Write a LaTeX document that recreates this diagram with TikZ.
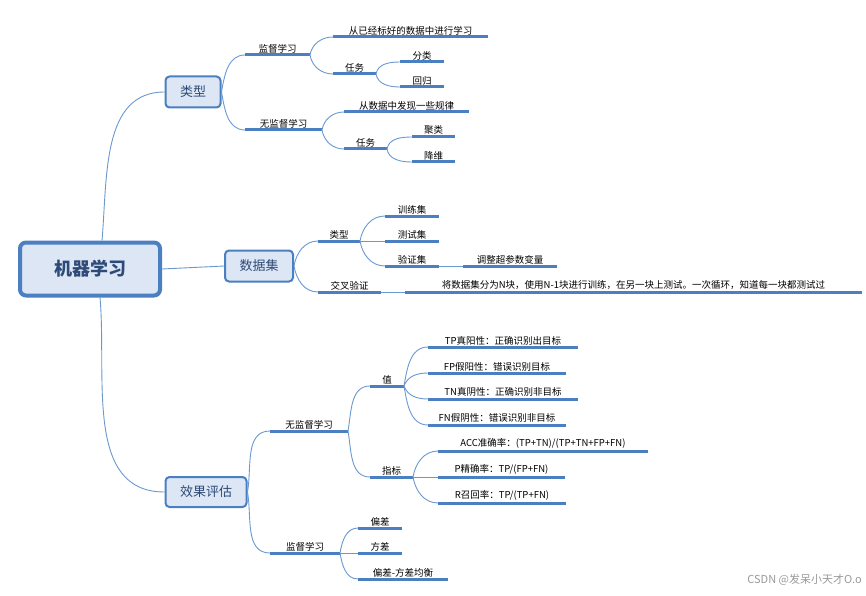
\documentclass[tikz,border=0pt]{standalone}
\usepackage{fontspec}
\setmainfont{Noto Sans CJK SC}
\definecolor{lineb}{HTML}{4A7FC1}
\definecolor{connb}{HTML}{6A98CF}
\definecolor{boxf}{HTML}{DCE6F4}
\definecolor{txtb}{HTML}{2E4A78}
\newcommand\mleaf[5]{%
  \coordinate (#1-s) at (#2,#4); \coordinate (#1-e) at (#3,#4);
  \draw[under] (#1-s) -- (#1-e);
  \node[lbl] (#1) at ({(#2+#3)/2},#4) {#5};}
\begin{document}
\begin{tikzpicture}[x=1pt,y=-1pt,
  under/.style={lineb,line width=3pt},
  conn/.style={connb,line width=0.9pt},
  lbl/.style={anchor=south,inner sep=2pt,font=\fontsize{9.5}{11}\selectfont,text=black},
  bx/.style={draw=lineb,fill=boxf,line width=2pt,rounded corners=4pt,text=txtb,font=\fontsize{13}{15}\selectfont,inner sep=0pt},
  up/.style={out=80,in=180},
  dn/.style={out=-80,in=180}]
\useasboundingbox (0,0) rectangle (866,596);
% boxes
\node[bx,line width=4pt,rounded corners=6pt,minimum width=140pt,minimum height=53pt,font=\fontsize{18}{20}\selectfont\bfseries] (root) at (90,269) {机器学习};
\node[bx,minimum width=55pt,minimum height=31pt] (lx) at (193,92) {类型};
\node[bx,minimum width=68pt,minimum height=31pt] (sj) at (259,266) {数据集};
\node[bx,minimum width=81pt,minimum height=30pt] (xg) at (206,492) {效果评估};
\draw[conn] (root.north) ++(12,0) coordinate (r1) to[out=85,in=180] (lx.west);
\draw[conn] (root.east) -- (sj.west);
\draw[conn] (root.south) ++(10,0) coordinate (r2) to[out=-85,in=180] (xg.west);
% 类型
\mleaf{jd}{245}{310}{55}{监督学习}
\mleaf{wjd}{245}{322}{130}{无监督学习}
\draw[conn] (lx.east) to[up] (jd-s);
\draw[conn] (lx.east) to[dn] (wjd-s);
\mleaf{jd1}{333}{488}{37}{从已经标好的数据中进行学习}
\mleaf{jd2}{333}{376}{74}{任务}
\draw[conn] (jd-e) to[up] (jd1-s); \draw[conn] (jd-e) to[dn] (jd2-s);
\mleaf{fl}{400}{444}{62}{分类}
\mleaf{hg}{400}{444}{87}{回归}
\draw[conn] (jd2-e) to[up] (fl-s); \draw[conn] (jd2-e) to[dn] (hg-s);
\mleaf{wjd1}{344}{469}{112}{从数据中发现一些规律}
\mleaf{wjd2}{344}{387}{149}{任务}
\draw[conn] (wjd-e) to[up] (wjd1-s); \draw[conn] (wjd-e) to[dn] (wjd2-s);
\mleaf{jl}{412}{455}{137}{聚类}
\mleaf{jw}{412}{455}{162}{降维}
\draw[conn] (wjd2-e) to[up] (jl-s); \draw[conn] (wjd2-e) to[dn] (jw-s);
% 数据集
\mleaf{sl}{318}{360}{241}{类型}
\mleaf{jc}{318}{381}{292}{交叉验证}
\draw[conn] (sj.east) to[up] (sl-s); \draw[conn] (sj.east) to[dn] (jc-s);
\mleaf{xl}{385}{439}{216}{训练集}
\mleaf{cs}{385}{439}{241}{测试集}
\mleaf{yz}{385}{439}{266}{验证集}
\draw[conn] (sl-e) to[up] (xl-s); \draw[conn] (sl-e) -- (cs-s); \draw[conn] (sl-e) to[dn] (yz-s);
\mleaf{tz}{463}{557}{266}{调整超参数变量}
\draw[conn] (yz-e) -- (tz-s);
\mleaf{jcs}{405}{862}{292}{将数据集分为N块，使用N-1块进行训练，在另一块上测试。一次循环，知道每一块都测试过}
\draw[conn] (jc-e) -- (jcs-s);
% 效果评估
\mleaf{e1}{270}{348}{431}{无监督学习}
\mleaf{e2}{270}{340}{553}{监督学习}
\draw[conn] (xg.east) to[up] (e1-s); \draw[conn] (xg.east) to[dn] (e2-s);
\mleaf{z}{370}{404}{386}{值}
\mleaf{zb}{370}{413}{477}{指标}
\draw[conn] (e1-e) to[up] (z-s); \draw[conn] (e1-e) to[dn] (zb-s);
\mleaf{tp}{428}{578}{347}{TP真阳性：正确识别出目标}
\mleaf{fp}{428}{566}{373}{FP假阳性：错误识别目标}
\mleaf{tn}{428}{578}{399}{TN真阴性：正确识别非目标}
\mleaf{fn}{428}{566}{425}{FN假阴性：错误识别非目标}
\draw[conn] (z-e) to[up] (tp-s); \draw[conn] (z-e) to[out=70,in=180] (fp-s);
\draw[conn] (z-e) to[out=-70,in=180] (tn-s); \draw[conn] (z-e) to[dn] (fn-s);
\mleaf{acc}{438}{648}{451}{ACC准确率：(TP+TN)/(TP+TN+FP+FN)}
\mleaf{pp}{438}{565}{477}{P精确率：TP/(FP+FN)}
\mleaf{rr}{438}{566}{503}{R召回率：TP/(TP+FN)}
\draw[conn] (zb-e) to[up] (acc-s); \draw[conn] (zb-e) -- (pp-s); \draw[conn] (zb-e) to[dn] (rr-s);
\mleaf{pc}{358}{402}{528}{偏差}
\mleaf{fc}{358}{402}{553}{方差}
\mleaf{jh}{358}{448}{579}{偏差-方差均衡}
\draw[conn] (e2-e) to[up] (pc-s); \draw[conn] (e2-e) -- (fc-s); \draw[conn] (e2-e) to[dn] (jh-s);
\node[text=gray!80,font=\fontsize{11}{13}\selectfont,anchor=east,inner sep=0pt] (wm) at (862,580) {CSDN @发呆小天才O.o};
\end{tikzpicture}
\end{document}
